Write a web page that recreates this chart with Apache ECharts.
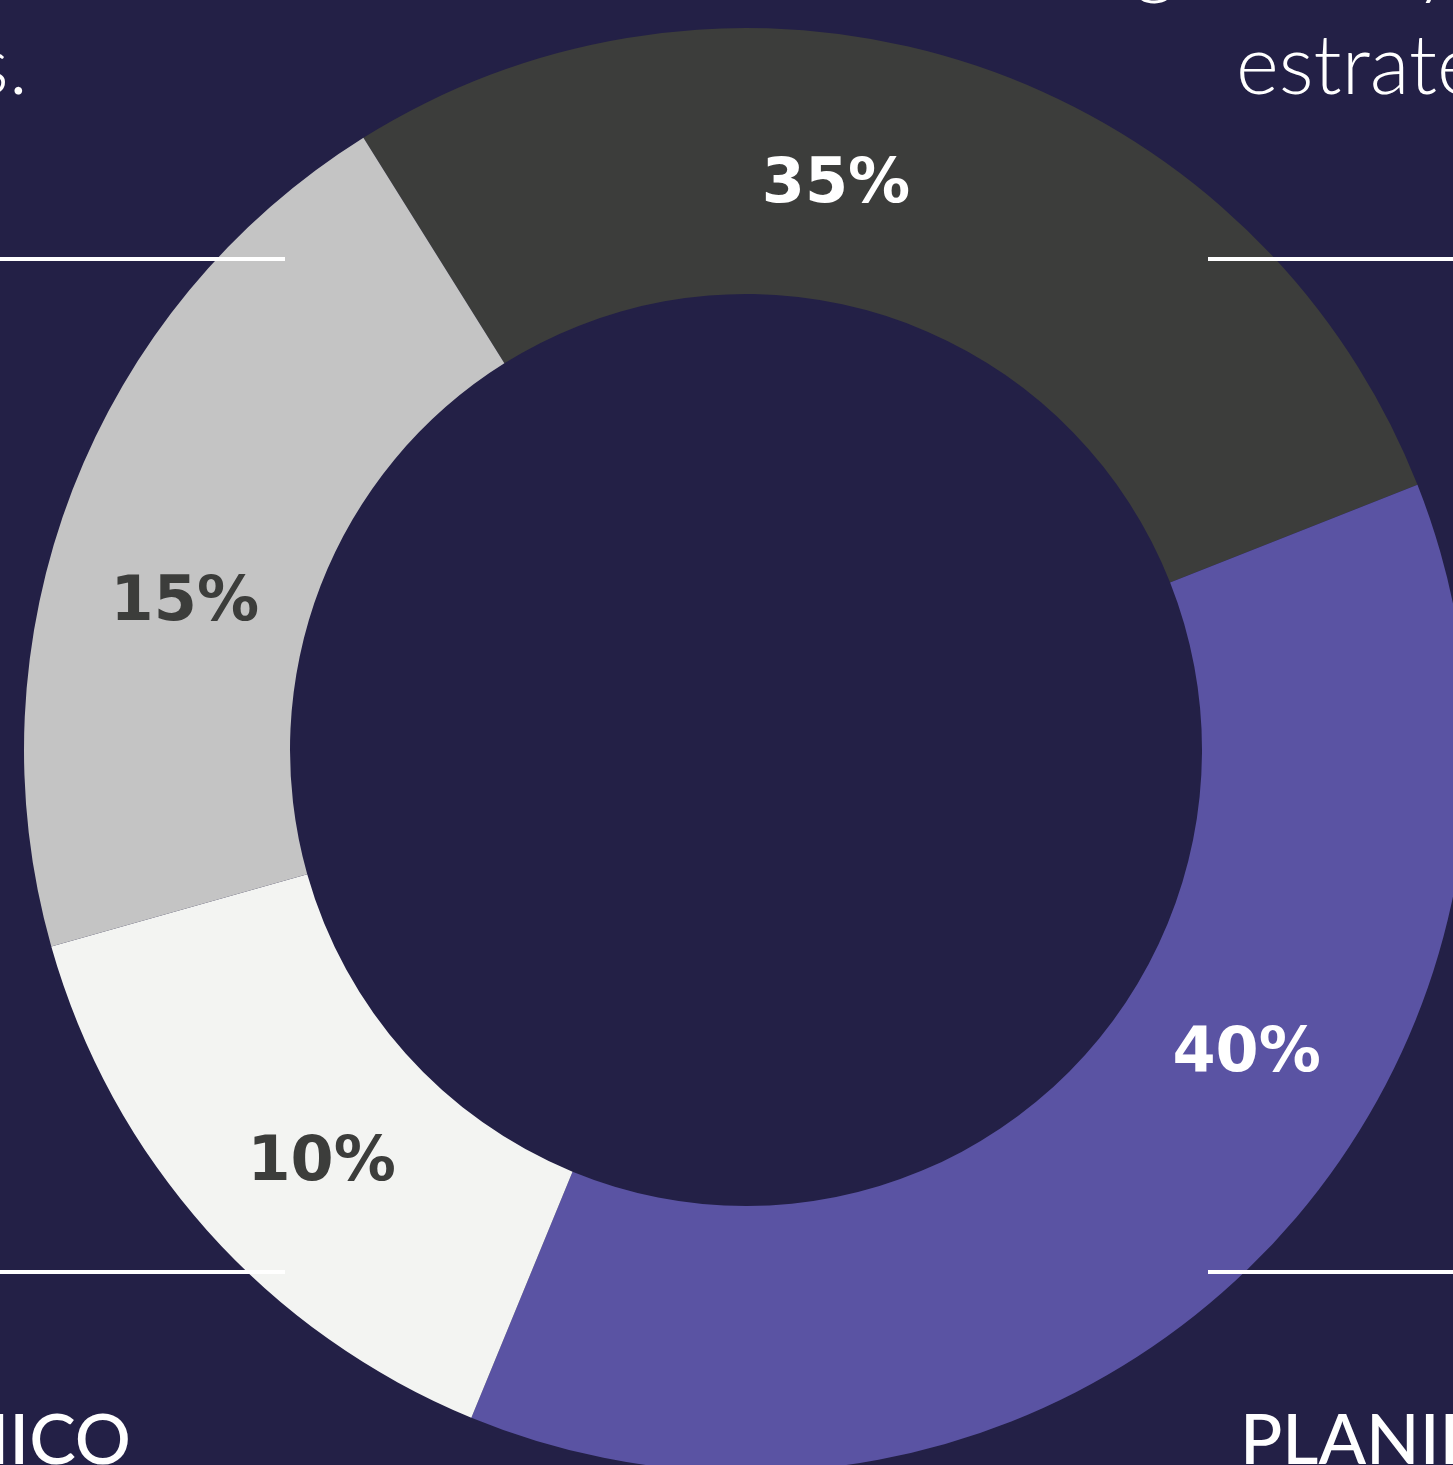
<!DOCTYPE html>
<html>
<head>
<meta charset="utf-8">
<style>
html,body{margin:0;padding:0;background:#232046;overflow:hidden;}
#chart{width:1453px;height:1465px;}
</style>
</head>
<body>
<div id="chart"></div>
<script src="https://cdn.jsdelivr.net/npm/echarts@6/dist/echarts.min.js"></script>
<script>
// segments, clockwise from the top-left boundary
var categories = ['Segmento A', 'Segmento B', 'Segmento C', 'Segmento D'];
var percentValues = [35, 40, 10, 15];
// share of the ring each arc actually covers in the picture (in % of 360deg)
var arcShares = [27.9, 37.2, 14.4, 20.5];
var percentLabels = percentValues.map(function(v){ return v + '%'; });

(function(){
    var colors = ['#3c3d3b', '#5a53a3', '#f3f4f2', '#c4c4c4'],
        labelColors = ['#ffffff', '#ffffff', '#3c3d3b', '#3c3d3b'],
        // where the percentage texts sit (angle clockwise from 12 o'clock, radius px)
        labelAngles = [9, 121, 226, 285],
        labelRadius = [575, 584, 590, 581],
        cx = 746, cy = 750, rOuter = 722, rInner = 456;

    var chart = echarts.init(document.getElementById('chart'));

    var option = {
        backgroundColor: '#232046',
        animation: false,
        polar: {center: [cx, cy], radius: rOuter},
        angleAxis: {type: 'value', min: 0, max: 360, startAngle: 90, clockwise: true, show: false},
        radiusAxis: {type: 'value', min: 0, max: rOuter, show: false},
        series: [
            {
                type: 'pie',
                center: [cx, cy],
                radius: [rInner, rOuter],
                startAngle: 122,
                clockwise: true,
                silent: true,
                label: {show: false},
                labelLine: {show: false},
                itemStyle: {borderWidth: 0},
                data: arcShares.map(function(v, i){
                    return {name: categories[i], value: v, itemStyle: {color: colors[i]}};
                })
            },
            {
                type: 'scatter',
                coordinateSystem: 'polar',
                symbolSize: 2,
                silent: true,
                z: 5,
                itemStyle: {color: 'rgba(0,0,0,0)', opacity: 1},
                data: percentLabels.map(function(t, i){
                    return {
                        value: [labelRadius[i], labelAngles[i]],
                        label: {color: labelColors[i]}
                    };
                }),
                label: {
                    show: true,
                    position: 'inside',
                    offset: [0, 4],
                    opacity: 1,
                    fontFamily: 'DejaVu Sans',
                    fontWeight: 'bold',
                    fontSize: 62,
                    formatter: function(p){ return percentLabels[p.dataIndex]; }
                }
            }
        ],
        graphic: [
            {type: 'line', z: 10, shape: {x1: 0, y1: 259, x2: 285, y2: 259}, style: {stroke: '#ffffff', lineWidth: 4}},
            {type: 'line', z: 10, shape: {x1: 1208, y1: 259, x2: 1453, y2: 259}, style: {stroke: '#ffffff', lineWidth: 4}},
            {type: 'line', z: 10, shape: {x1: 0, y1: 1272, x2: 285, y2: 1272}, style: {stroke: '#ffffff', lineWidth: 4}},
            {type: 'line', z: 10, shape: {x1: 1208, y1: 1272, x2: 1453, y2: 1272}, style: {stroke: '#ffffff', lineWidth: 4}},
            {type: 'text', z: 10, x: 28, y: 68, style: {text: 'resultados.', fill: '#ffffff', font: '300 82px Lato', textAlign: 'right', textVerticalAlign: 'middle'}},
            {type: 'text', z: 10, x: 1455, y: -38, style: {text: 'gestión y', fill: '#ffffff', font: '300 82px Lato', textAlign: 'right', textVerticalAlign: 'middle'}},
            {type: 'text', z: 10, x: 1236, y: 68, style: {text: 'estrategia', fill: '#ffffff', font: '300 82px Lato', textAlign: 'left', textVerticalAlign: 'middle'}},
            {type: 'text', z: 10, x: 131, y: 1441, style: {text: 'TÉCNICO', fill: '#ffffff', font: '500 70px Lato', textAlign: 'right', textVerticalAlign: 'middle'}},
            {type: 'text', z: 10, x: 1240, y: 1441, style: {text: 'PLANIFICACIÓN', fill: '#ffffff', font: '500 70px Lato', textAlign: 'left', textVerticalAlign: 'middle'}}
        ]
    };

    chart.setOption(option);
})();
</script>
</body>
</html>
